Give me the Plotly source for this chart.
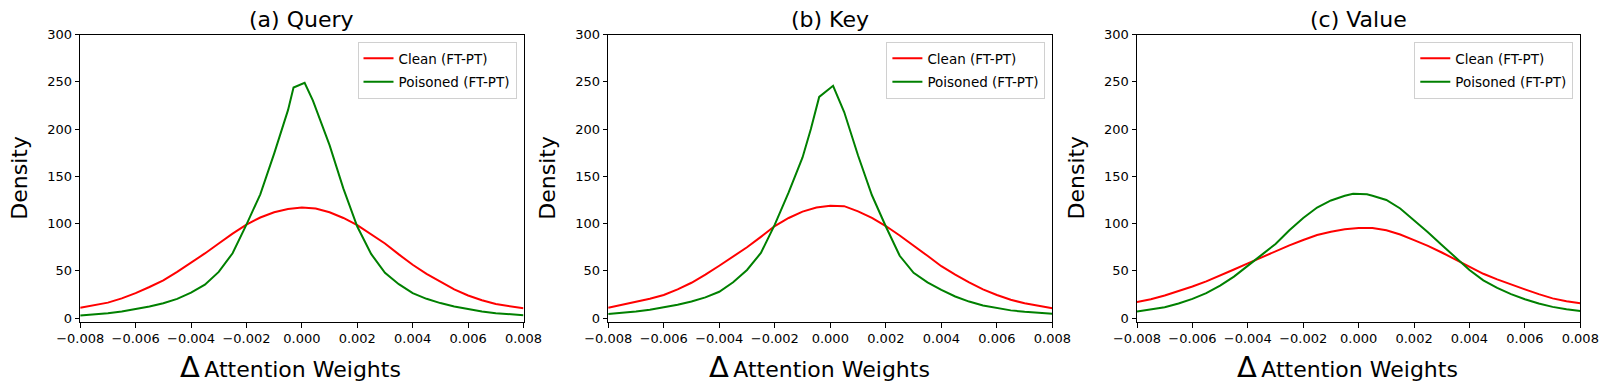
import plotly.graph_objects as go
from plotly.subplots import make_subplots

W, H = 1609, 390
FONT = "DejaVu Sans"
RED = "#ff0000"
GREEN = "#008000"

panel_titles = ["(a) Query", "(b) Key", "(c) Value"]
series_names = ["Clean (FT-PT)", "Poisoned (FT-PT)"]

# common evaluation grid for the density curves (delta attention weight)
grid_x = [-0.008, -0.0075, -0.007, -0.0065, -0.006, -0.0055, -0.005, -0.0045, -0.004, -0.0035,
          -0.003, -0.0025, -0.002, -0.0015, -0.001, -0.0005, 0.0, 0.0005, 0.001, 0.0015,
          0.002, 0.0025, 0.003, 0.0035, 0.004, 0.0045, 0.005, 0.0055, 0.006, 0.0065,
          0.007, 0.0075, 0.008]

query_clean_y = [11, 13.5, 16.5, 21, 26.5, 33, 40, 49, 58.5, 68.5,
                 79, 89.5, 99, 106.5, 112, 115.5, 117, 116, 112, 106,
                 98.5, 89, 79, 67.5, 56.5, 47, 38.7, 30.5, 24, 19,
                 15, 12.5, 10.5]
key_clean_y = [11, 14, 17.3, 20.5, 24.6, 30.5, 37.5, 46, 55.5, 65,
               75, 86, 97.5, 106, 112.7, 117, 119, 118.5, 113, 106,
               97.5, 87.5, 77, 66, 55, 46, 38, 30.5, 24.6, 19.5,
               15.8, 13, 10.6]
value_clean_y = [17, 20, 24, 28.5, 33.5, 39, 45, 51.5, 58, 64.5,
                 71, 77, 82.7, 88, 91.5, 94, 95.5, 95.5, 93, 88.5,
                 82.5, 76.5, 69.5, 62, 54.5, 47, 41, 35.5, 30.5, 25.5,
                 21, 18, 15.8]

# poisoned curves have their own sample points around the peak
query_pois_x = [-0.008, -0.0075, -0.007, -0.0065, -0.006, -0.0055, -0.005, -0.0045, -0.004, -0.0035,
                -0.003, -0.0025, -0.002, -0.0015, -0.001, -0.0005, -0.0003, 0.0001, 0.0004, 0.001,
                0.0015, 0.002, 0.0025, 0.003, 0.0035, 0.004, 0.0045, 0.005, 0.0055, 0.006,
                0.0065, 0.007, 0.0075, 0.008]
query_pois_y = [3, 4, 5.3, 7, 9.5, 12.3, 15.8, 20.5, 27, 35.5,
                49, 68.7, 99, 131, 174, 220, 244, 249, 230, 183,
                137, 97, 68, 48, 36, 26.5, 20.5, 16, 12.5, 9.5,
                7, 5.3, 4, 3.2]

key_pois_x = [-0.008, -0.0075, -0.007, -0.0065, -0.006, -0.0055, -0.005, -0.0045, -0.004, -0.0035,
              -0.003, -0.0025, -0.002, -0.0015, -0.001, -0.0007, -0.0004, 0.0001, 0.0005, 0.001,
              0.0015, 0.002, 0.0025, 0.003, 0.0035, 0.004, 0.0045, 0.005, 0.0055, 0.006,
              0.0065, 0.007, 0.0075, 0.008]
key_pois_y = [4.4, 5.5, 7, 9, 11.6, 14.3, 17.6, 22, 28, 38,
              51, 69, 99, 133, 170, 200, 234, 245.8, 218, 172,
              130, 97, 66, 48, 38, 30, 23, 17.6, 13.5, 10.6,
              8.3, 6.8, 5.5, 4.6]

value_pois_x = [-0.008, -0.0075, -0.007, -0.0065, -0.006, -0.0055, -0.005, -0.0045, -0.004, -0.0035,
                -0.003, -0.0025, -0.002, -0.0015, -0.001, -0.0005, -0.0002, 0.0003, 0.0005, 0.001,
                0.0015, 0.002, 0.0025, 0.003, 0.0035, 0.004, 0.0045, 0.005, 0.0055, 0.006,
                0.0065, 0.007, 0.0075, 0.008]
value_pois_y = [7, 9, 11.6, 15.5, 20.4, 26.5, 34.5, 44, 56, 67,
                78.5, 93, 106, 117, 124.5, 129.5, 131.5, 131, 129.5, 125,
                116, 104, 91, 77.5, 64, 51, 40, 32, 25.5, 20,
                15.5, 12, 9.5, 7.7]

x_ticks = [-0.008, -0.006, -0.004, -0.002, 0.0, 0.002, 0.004, 0.006, 0.008]
y_ticks = [0, 50, 100, 150, 200, 250, 300]

panels = [
    (grid_x, query_clean_y, query_pois_x, query_pois_y),
    (grid_x, key_clean_y, key_pois_x, key_pois_y),
    (grid_x, value_clean_y, value_pois_x, value_pois_y),
]

# plot-area pixel boxes measured on the reference
x_px = [(80.2, 523.5), (608.2, 1052.4), (1137.0, 1580.3)]
y_top, y_bot = 34.5, 322

fig = make_subplots(rows=1, cols=3)

legend_names = ["legend", "legend2", "legend3"]
for i, (cx, cy, px, py) in enumerate(panels):
    col = i + 1
    fig.add_trace(go.Scatter(x=cx, y=cy, mode="lines", name=series_names[0],
                             line=dict(color=RED, width=2),
                             legend=legend_names[i], legendgroup=f"clean{i}"), row=1, col=col)
    fig.add_trace(go.Scatter(x=px, y=py, mode="lines", name=series_names[1],
                             line=dict(color=GREEN, width=2),
                             legend=legend_names[i], legendgroup=f"pois{i}"), row=1, col=col)

axis_common = dict(showline=True, mirror=True, linecolor="black", linewidth=1,
                   ticks="outside", ticklen=4.5, tickcolor="black", tickwidth=1,
                   showgrid=False, zeroline=False, automargin=False,
                   tickfont=dict(family=FONT, size=13, color="black"))

layout = dict(
    width=W, height=H,
    margin=dict(l=0, r=0, t=0, b=0, autoexpand=False),
    plot_bgcolor="white", paper_bgcolor="white",
    font=dict(family=FONT, color="black"),
)

annotations = []
for i in range(3):
    sfx = "" if i == 0 else str(i + 1)
    x0, x1 = x_px[i]
    layout["xaxis" + sfx] = dict(axis_common, domain=[x0 / W, x1 / W], range=[-0.008, 0.008],
                                 tickvals=x_ticks, tickformat=".3f")
    layout["yaxis" + sfx] = dict(axis_common, domain=[1 - y_bot / H, 1 - y_top / H], range=[-4, 300],
                                 tickvals=y_ticks)
    layout[legend_names[i]] = dict(
        x=(x1 - 7) / W, y=1 - 42 / H, xanchor="right", yanchor="top",
        bgcolor="rgba(255,255,255,0.8)", bordercolor="#d0d0d0", borderwidth=1,
        font=dict(family=FONT, size=13.5, color="black"), itemwidth=30,
        tracegroupgap=3,
    )
    cx_mid = (x0 + x1) / 2
    annotations.append(dict(text=panel_titles[i], x=cx_mid / W, y=1 - 19 / H, xref="paper", yref="paper",
                            xanchor="center", yanchor="middle", showarrow=False,
                            font=dict(family=FONT, size=22, color="black")))
    annotations.append(dict(text="Density", x=(x0 - 60.5) / W, y=1 - 178 / H, xref="paper", yref="paper",
                            xanchor="center", yanchor="middle", textangle=-90, showarrow=False,
                            font=dict(family=FONT, size=22, color="black")))
    annotations.append(dict(text="<span style='font-size:29px'>Δ</span>\u2009Attention Weights",
                            x=(cx_mid - 11) / W, y=1 - 367 / H, xref="paper", yref="paper",
                            xanchor="center", yanchor="middle", showarrow=False,
                            font=dict(family=FONT, size=22, color="black")))

layout["annotations"] = annotations
fig.update_layout(**layout)

# page body has a default 8px margin; drop it so the figure sits at the window origin
fig.write_html("out.html", config={"displayModeBar": False},
               post_script="document.body.style.margin='0';")
